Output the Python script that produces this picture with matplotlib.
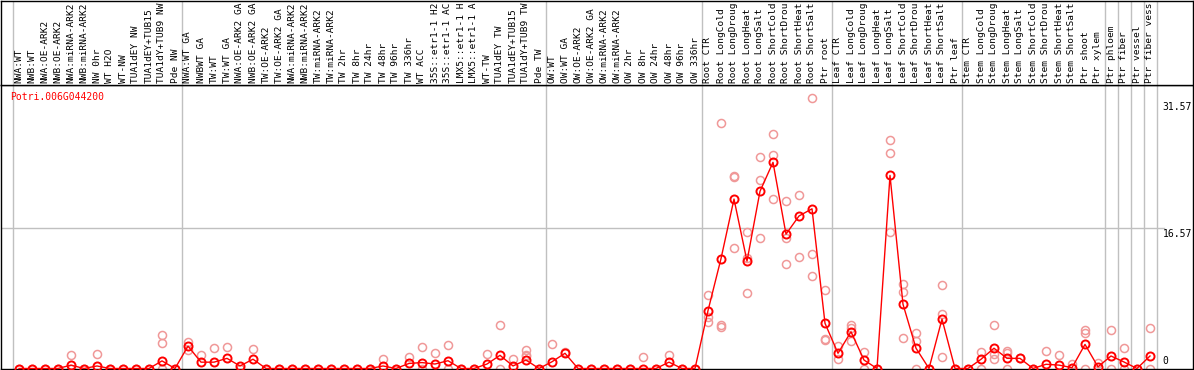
import matplotlib.pyplot as plt
from matplotlib.transforms import blended_transform_factory

# Sample names along the top of the chart (as far as they show in the strip)
labels = [
    'NWA:WT', 'NWB:WT', 'NWA:OE-ARK2', 'NWB:OE-ARK2', 'NWA:miRNA-ARK2',
    'NWB:miRNA-ARK2', 'NW 0hr', 'WT H2O', 'WT-NW', 'TUA1dEY NW',
    'TUA1dEY+TUB15', 'TUA1dY+TUB9 NW', 'Pde NW',
    'NWA:WT GA', 'NWBWT GA', 'TW:WT', 'TW:WT GA', 'NWA:OE-ARK2 GA',
    'NWB:OE-ARK2 GA', 'TW:OE-ARK2', 'TW:OE-ARK2 GA', 'NWA:miRNA-ARK2',
    'NWB:miRNA-ARK2', 'TW:miRNA-ARK2', 'TW:miRNA-ARK2', 'TW 2hr',
    'TW 8hr', 'TW 24hr', 'TW 48hr', 'TW 96hr', 'TW 336hr', 'WT ACC',
    '35S::etr1-1 H2', '35S::etr1-1 AC', 'LMX5::etr1-1 H',
    'LMX5::etr1-1 A', 'WT-TW', 'TUA1dEY TW', 'TUA1dEY+TUB15',
    'TUA1dY+TUB9 TW', 'Pde TW',
    'OW:WT', 'OW:WT GA', 'OW:OE-ARK2', 'OW:OE-ARK2 GA', 'OW:miRNA-ARK2',
    'OW:miRNA-ARK2', 'OW 2hr', 'OW 8hr', 'OW 24hr', 'OW 48hr', 'OW 96hr',
    'OW 336hr',
    'Root CTR', 'Root LongCold', 'Root LongDroug', 'Root LongHeat',
    'Root LongSalt', 'Root ShortCold', 'Root ShortDrou', 'Root ShortHeat',
    'Root ShortSalt', 'Ptr root',
    'Leaf CTR', 'Leaf LongCold', 'Leaf LongDroug', 'Leaf LongHeat',
    'Leaf LongSalt', 'Leaf ShortCold', 'Leaf ShortDrou', 'Leaf ShortHeat',
    'Leaf ShortSalt', 'Ptr leaf',
    'Stem CTR', 'Stem LongCold', 'Stem LongDroug', 'Stem LongHeat',
    'Stem LongSalt', 'Stem ShortCold', 'Stem ShortDrou', 'Stem ShortHeat',
    'Stem ShortSalt', 'Ptr shoot', 'Ptr xylem', 'Ptr phloem', 'Ptr fiber',
    'Ptr vessel', 'Ptr fiber vess',
]

# Mean expression per sample (red line)
means = [
    0, 0, 0, 0, 0.4, 0, 0.3, 0, 0, 0, 0, 0.9, 0,
    2.65, 0.75, 0.75, 1.2, 0.3, 1.1, 0, 0, 0, 0, 0, 0, 0, 0, 0,
    0.3, 0, 0.6, 0.7, 0.53, 0.92, 0, 0, 0.53, 1.56, 0.3, 1.0, 0,
    0.8, 1.8, 0, 0, 0, 0, 0, 0, 0, 0.75, 0, 0,
    6.85, 13.0, 20.05, 12.7, 20.97, 24.4, 15.9, 18.05, 18.9, 5.35,
    1.8, 4.35, 1.0, 0, 22.85, 7.6, 2.4, 0, 5.85, 0,
    0, 1.09, 2.4, 1.2, 1.2, 0, 0.5, 0.4, 0.1, 2.85, 0.2, 1.48, 0.77,
    0, 1.48,
]

# Individual replicates (pale circles)
reps = [
    [0], [0], [0], [0], [1.56, 0], [0], [1.7], [0], [0], [0], [0],
    [4.0, 3.0, 0], [0],
    [3.1, 2.2], [1.6], [2.4], [2.5], [0], [2.3], [0], [0], [0], [0], [0],
    [0], [0], [0], [0],
    [1.1], [0], [1.4], [2.5, 0], [1.8], [2.75, 0], [0], [0], [1.7],
    [5.1, 0], [1.1], [2.2, 1.6, 1.5], [0],
    [2.9], [2.0], [0], [0], [0], [0], [0], [1.4], [0], [1.6], [0], [0],
    [8.7, 6.1, 5.5], [29.1, 5.1, 4.9], [22.8, 22.7, 14.3],
    [16.2, 13.1, 8.9], [25.0, 22.3, 15.5], [27.7, 25.3, 20.1],
    [19.8, 15.5, 12.4], [20.5, 13.2], [32.0, 13.55, 11.0], [9.25, 3.45, 3.4],
    [2.66, 1.1], [5.1, 4.75, 3.25], [2.0, 0], [0], [27.0, 25.5, 16.1],
    [10.0, 9.1, 3.57], [4.16, 3.3, 0], [0], [9.9, 6.4, 1.4], [0],
    [0], [1.9, 0], [5.15, 1.68, 1.1], [2.1, 1.8, 0], [1.3], [0], [2.1],
    [1.6], [0.5], [4.6, 4.15, 0], [0.7], [4.6, 0], [2.4, 0], [0],
    [4.75, 0],
]

gene = 'Potri.006G044200'
group_breaks = [-0.5, 12.5, 40.5, 52.5, 62.5, 72.5, 83.5, 84.5, 85.5, 86.5,
                87.5]
ytick_vals = [0, 16.57, 31.57]

W, H = 1194, 370
fig = plt.figure(figsize=(W / 100, H / 100), dpi=100)
mono = 'DejaVu Sans Mono'

# main plot area (pixel layout: x 1..1193, y 85..369 from top)
ax = fig.add_axes([1 / W, 1 / H, 1192 / W, 284 / H])
# label strip on top
lab = fig.add_axes([1 / W, 285 / H, 1192 / W, 84.5 / H], sharex=ax)

px_per_sample = 13.0
first_px = 19.0
ax.set_xlim((1 - first_px) / px_per_sample, (1193 - first_px) / px_per_sample)
px_per_unit = 8.45
ax.set_ylim(-0.5 / px_per_unit, 283.5 / px_per_unit)
lab.set_ylim(0, 1)

for a in (ax, lab):
    a.set_xticks([])
    a.set_yticks([])
    for s in a.spines.values():
        s.set_linewidth(1.0)
        s.set_color('black')
    for b in group_breaks:
        a.axvline(b, color='#c0c0c0', lw=1, zorder=0)

ax.axhline(16.57, xmin=0, xmax=0.976, color='#c0c0c0', lw=1, zorder=0)

xs = list(range(len(means)))
for i, r in enumerate(reps):
    ax.plot([i] * len(r), r, 'o', ms=5.8, mfc='none', mec='#f09898',
            mew=1.1, zorder=2, clip_on=False)
ax.plot(xs, means, '-', color='#ff0000', lw=1.0, zorder=3, clip_on=False)
ax.plot(xs, means, 'o', ms=5.8, mfc='none', mec='#ff0000', mew=1.4,
        zorder=4, clip_on=False)

trans = blended_transform_factory(ax.transData, lab.transAxes)
for i, t in enumerate(labels):
    lab.text(i, 0.025, t, rotation=90, ha='center', va='bottom',
             family=mono, fontsize=6.8, transform=trans)

rtrans = blended_transform_factory(ax.transAxes, ax.transData)
for v in ytick_vals:
    va = 'bottom' if v == 0 else 'top'
    ax.text(0.9745, v + (0.25 if v == 0 else -0.05), f'{v:g}', ha='left',
            va=va, family=mono, fontsize=7, transform=rtrans)

ax.text(9 / 1192, 0.958, gene, color='#ff0000', ha='left', va='center',
        family=mono, fontsize=7, transform=ax.transAxes)

fig.savefig('out.png', dpi=100)
